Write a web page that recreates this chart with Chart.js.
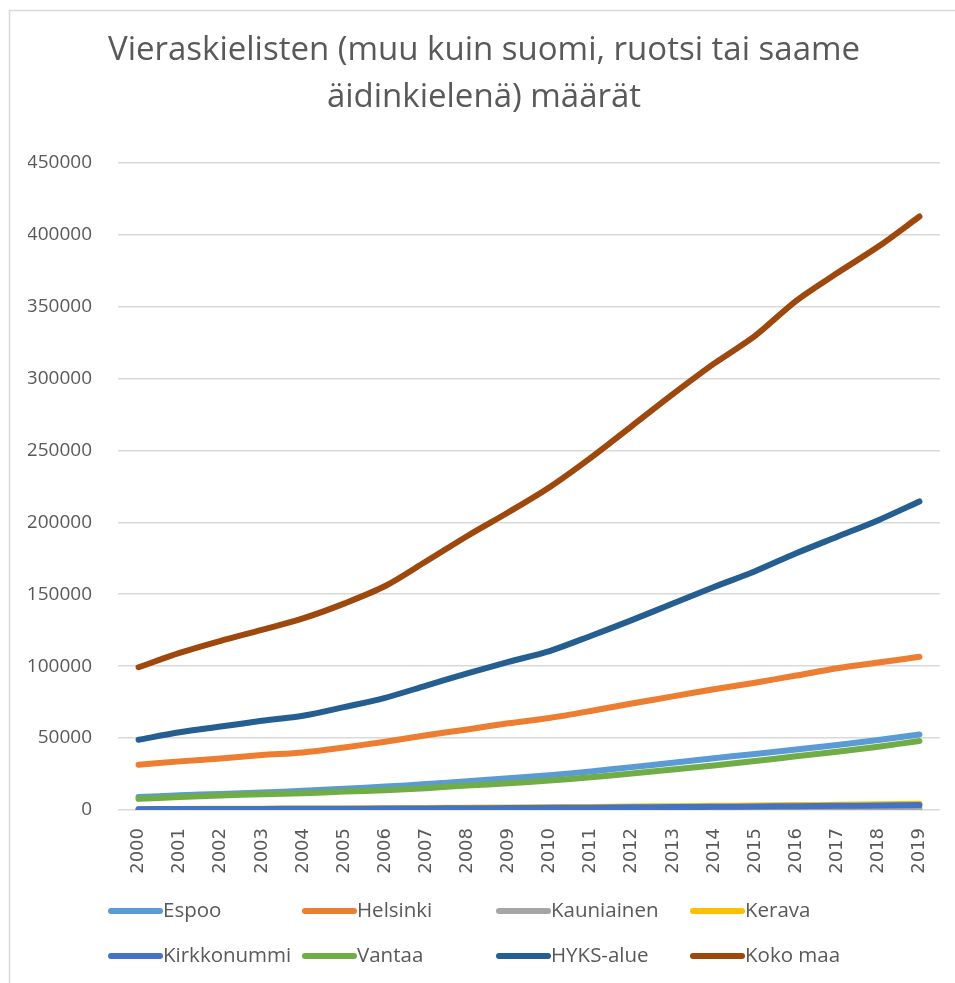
<!DOCTYPE html>
<html>
<head>
<meta charset="utf-8">
<script src="https://cdn.jsdelivr.net/npm/chart.js@4.4.1/dist/chart.umd.min.js"></script>
<style>
html,body{margin:0;padding:0;background:#fff;overflow:hidden;}
#wrap{width:955px;height:983px;position:relative;overflow:hidden;}
</style>
</head>
<body>
<div id="wrap"><canvas id="c" width="955" height="983"></canvas></div>
<script>
const years = ['2000','2001','2002','2003','2004','2005','2006','2007','2008','2009','2010','2011','2012','2013','2014','2015','2016','2017','2018','2019'];
const yTicks = [0,50000,100000,150000,200000,250000,300000,350000,400000,450000];
const seriesNames = ['Espoo','Helsinki','Kauniainen','Kerava','Kirkkonummi','Vantaa','HYKS-alue','Koko maa'];
const seriesColors = ['#5B9BD5','#ED7D31','#A5A5A5','#FFC000','#4472C4','#70AD47','#255E91','#9E480E'];

const espoo       = [9000,10200,11200,12200,13300,14800,16300,18000,20000,22000,24200,26800,29800,32800,36000,39000,42000,45200,48700,52500];
const helsinki    = [31500,33800,35800,38200,40000,43500,47500,52000,56000,60300,64000,68800,74000,79000,84000,88500,93500,98500,102500,106500];
const kauniainen  = [300,330,360,390,420,460,500,540,590,640,690,740,790,840,880,920,960,1000,1050,1100];
const kerava      = [700,780,860,940,1020,1120,1250,1400,1560,1750,1950,2150,2400,2650,2900,3150,3400,3700,4000,4300];
const kirkkonummi = [600,650,700,760,820,900,980,1080,1200,1330,1480,1650,1830,2020,2220,2430,2650,2900,3150,3400];
const vantaa      = [7800,9000,10000,11000,11700,12800,13800,15200,17000,18600,20500,22800,25300,28200,31000,34000,37300,40500,44000,48000];
const hyks        = [48800,54000,58000,62000,65500,71500,78000,86500,95000,103000,110500,121000,132000,143500,155000,166000,178500,190000,201500,214500];
const kokoMaa     = [99221,109197,117600,125200,133200,143500,155700,172900,190500,207000,224400,244800,266900,289100,310300,329600,354000,373300,391700,412600];

const seriesData = [espoo,helsinki,kauniainen,kerava,kirkkonummi,vantaa,hyks,kokoMaa];

const datasets = seriesNames.map((n,i)=>({
  label:n,
  data:seriesData[i],
  borderColor:seriesColors[i],
  backgroundColor:seriesColors[i],
  borderWidth:6,
  borderCapStyle:'round',
  borderJoinStyle:'round',
  pointRadius:0,
  pointHoverRadius:0,
  tension:0.3,
  fill:false,
  order:seriesNames.length - i
}));

const borderPlugin = {
  id:'borderPlugin',
  beforeDraw(chart){
    const ctx = chart.ctx;
    ctx.save();
    ctx.fillStyle='#fff';
    ctx.fillRect(0,0,chart.width,chart.height);
    ctx.strokeStyle='#d9d9d9';
    ctx.lineWidth=1.5;
    ctx.strokeRect(9.5,10.5,chart.width+20,chart.height+20);
    ctx.restore();
  }
};

const legendPlugin = {
  id:'gridLegend',
  afterDraw(chart){
    const ctx = chart.ctx;
    const colX = [108,302,496,690];
    const rowY = [911,956];
    ctx.save();
    ctx.font = '20.5px "Open Sans", sans-serif';
    ctx.textBaseline='middle';
    ctx.textAlign='left';
    chart.data.datasets.forEach((ds,i)=>{
      const x = colX[i%4], y = rowY[Math.floor(i/4)];
      ctx.strokeStyle = ds.borderColor;
      ctx.lineWidth = 6;
      ctx.lineCap='round';
      ctx.beginPath();
      ctx.moveTo(x+3,y);
      ctx.lineTo(x+52,y);
      ctx.stroke();
      ctx.fillStyle='#595959';
      ctx.fillText(ds.label,x+55,y);
    });
    ctx.restore();
  }
};

new Chart(document.getElementById('c'),{
  type:'line',
  data:{labels:years,datasets},
  plugins:[borderPlugin,legendPlugin],
  options:{
    responsive:false,
    animation:false,
    devicePixelRatio:1,
    layout:{padding:{left:28,right:15,top:0,bottom:110}},
    plugins:{
      legend:{display:false},
      tooltip:{enabled:false},
      title:{
        display:true,
        text:['Vieraskielisten (muu kuin suomi, ruotsi tai saame','äidinkielenä) määrät'],
        color:'#595959',
        font:{family:'"Open Sans", sans-serif',size:33,weight:'normal',lineHeight:1.42},
        padding:{top:27,bottom:42}
      }
    },
    scales:{
      x:{
        type:'category',
        offset:true,
        grid:{display:false},
        border:{display:false},
        ticks:{
          color:'#595959',
          font:{family:'"DejaVu Sans", sans-serif',size:18},
          minRotation:90,maxRotation:90,
          padding:10,
          autoSkip:false
        },
        afterFit(s){ s.height = 63; }
      },
      y:{
        min:0,max:450000,
        grid:{color:'#d9d9d9',lineWidth:1.5,drawTicks:false},
        border:{display:false},
        afterBuildTicks(s){ s.ticks = yTicks.map(v=>({value:v})); },
        ticks:{
          color:'#595959',
          font:{family:'"Open Sans", sans-serif',size:19},
          padding:26,
          callback:(v)=>String(v)
        },
        afterFit(s){ s.width = 90; }
      }
    }
  }
});
</script>
</body>
</html>
